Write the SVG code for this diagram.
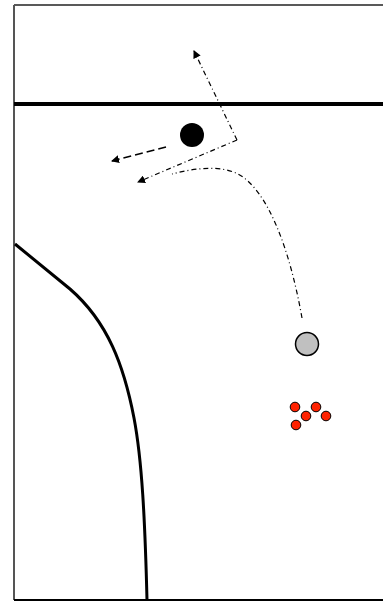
<svg xmlns="http://www.w3.org/2000/svg" width="383" height="602" viewBox="0 0 383 602">
<style>
.dd{fill:none;stroke:#000;stroke-width:1.2;stroke-dasharray:5 3 1 3}
.da{fill:none;stroke:#000;stroke-width:1.5;stroke-dasharray:8 4}
.red{fill:#ff2200;stroke:#000;stroke-width:1}
</style>
<defs>
<marker id="ah" markerWidth="8" markerHeight="8" refX="7" refY="4" orient="auto" markerUnits="userSpaceOnUse">
<path d="M0,0 L8,4 L0,8 z" fill="#000"/>
</marker>
</defs>
<rect width="383" height="602" fill="#fff"/>
<g id="court">
<line x1="14" y1="5" x2="383" y2="5" stroke="#222" stroke-width="1.5"/>
<line x1="14" y1="5" x2="14" y2="600" stroke="#555" stroke-width="2"/>
<line x1="14" y1="600" x2="383" y2="600" stroke="#000" stroke-width="2"/>
<line x1="14" y1="104" x2="383" y2="104" stroke="#000" stroke-width="4"/>
<path d="M15,244 L70,289 C108,322 124,366 134,418 C142,460 145,520 147,600" fill="none" stroke="#000" stroke-width="3"/>
</g>
<g id="connectors">
<path class="da" d="M166,147 L112,161" marker-end="url(#ah)"/>
<path class="dd" d="M237,140 L194,51" marker-end="url(#ah)"/>
<path class="dd" d="M237,140 L138,182" marker-end="url(#ah)"/>
<path class="dd" d="M302,318 C290,250 268,190 238,174 C220,165 195,168 172,174"/>
</g>
<g id="ball"><circle cx="192" cy="135" r="12" fill="#000"/></g>
<g id="player"><circle cx="307" cy="344" r="11.5" fill="#c0c0c0" stroke="#000" stroke-width="1.5"/></g>
<g id="cones">
<circle class="red" cx="295" cy="407" r="4.8"/>
<circle class="red" cx="316" cy="407" r="4.8"/>
<circle class="red" cx="306" cy="416" r="4.8"/>
<circle class="red" cx="326" cy="416" r="4.8"/>
<circle class="red" cx="296" cy="425" r="4.8"/>
</g>
</svg>
